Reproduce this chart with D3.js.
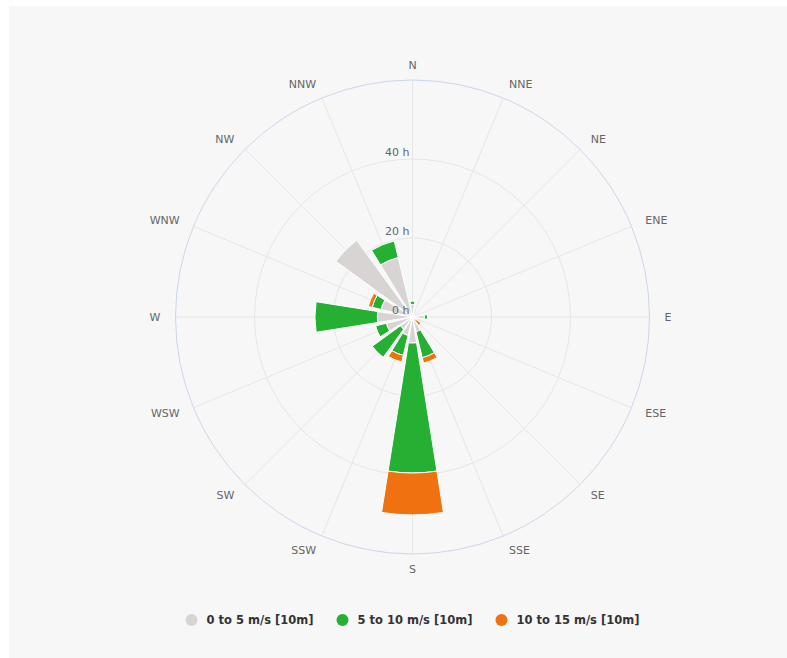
<!DOCTYPE html>
<html>
<head>
<meta charset="utf-8">
<script src="https://cdn.jsdelivr.net/npm/d3@7"></script>
<style>
  html, body { margin: 0; padding: 0; background: #ffffff; }
  svg { display: block; font-family: "DejaVu Sans", Verdana, sans-serif; }
</style>
</head>
<body>
<svg id="chart" width="787" height="658"></svg>
<script>
const directions = ["N","NNE","NE","ENE","E","ESE","SE","SSE","S","SSW","SW","WSW","W","WNW","NW","NNW"];
const speed0to5   = [3.2, 1.0, 0.8, 0.8, 3.0, 1.0, 0.8, 3.8, 6.6, 4.8, 3.8, 6.8, 8.9, 8.2, 24.0, 15.5];
const speed5to10  = [0.8, 0,   0,   0,   0.8, 0,   0.2, 6.8, 32.9, 5.2, 8.8, 2.8, 15.8, 2.3, 0,   4.3];
const speed10to15 = [0,   0,   0,   0,   0,   0,   1.6, 1.4, 10.6, 1.7, 0,   0,   0,    1.0, 0,   0];
const seriesNames = ["0 to 5 m/s [10m]", "5 to 10 m/s [10m]", "10 to 15 m/s [10m]"];
const seriesColors = ["#d9d4d4", "#25b033", "#ef710f"];
const yTicks = [0, 20, 40];
const yMax = 60;

const svg = d3.select("#chart");
const cx = 412.5, cy = 317, R = 237;

// panel background
svg.append("rect").attr("x", 9).attr("y", 6).attr("width", 787 - 9).attr("height", 658 - 6).attr("fill", "#f7f7f7");

const g = svg.append("g").attr("transform", `translate(${cx},${cy})`);
const r = d3.scaleLinear().domain([0, yMax]).range([0, R]);
const angle = d3.scaleBand().domain(directions).range([0, 2 * Math.PI]);
const step = angle.bandwidth();
const center = d => angle(d) ; // band start == direction angle (pointPlacement on)

// grid rings
yTicks.filter(t => t > 0).forEach(t => {
  g.append("circle").attr("r", r(t)).attr("fill", "none").attr("stroke", "#e6e6e6").attr("stroke-width", 1);
});
// spokes
directions.forEach(d => {
  const a = center(d);
  g.append("line")
    .attr("x1", 0).attr("y1", 0)
    .attr("x2", R * Math.sin(a)).attr("y2", -R * Math.cos(a))
    .attr("stroke", "#e6e6e6").attr("stroke-width", 1);
});
// outer axis line
g.append("circle").attr("r", R).attr("fill", "none").attr("stroke", "#ccd6eb").attr("stroke-width", 1);

// stacked data
const rows = directions.map((d, i) => ({dir: d, s0: speed0to5[i], s1: speed5to10[i], s2: speed10to15[i]}));
const stack = d3.stack().keys(["s0", "s1", "s2"])(rows);
const halfW = step * 0.8 / 2;
const arc = d3.arc();

stack.forEach((layer, li) => {
  g.append("g").selectAll("path").data(layer.filter(p => p[1] - p[0] > 0)).join("path")
    .attr("d", p => arc({
      innerRadius: r(p[0]), outerRadius: r(p[1]),
      startAngle: center(p.data.dir) - halfW, endAngle: center(p.data.dir) + halfW
    }))
    .attr("fill", seriesColors[li])
    .attr("stroke", "#ffffff").attr("stroke-width", 1).attr("stroke-linejoin", "round");
});

// y-axis labels
yTicks.forEach(t => {
  g.append("text").attr("x", -3).attr("y", -r(t) - 6.5)
    .attr("dy", "0.35em").attr("text-anchor", "end")
    .attr("font-size", 11).attr("fill", "#666666").text(t + " h");
});

// direction labels
const labR = R + 15;
directions.forEach(d => {
  const a = center(d);
  const s = Math.sin(a);
  const anchor = Math.abs(s) < 1e-6 ? "middle" : (s > 0 ? "start" : "end");
  g.append("text")
    .attr("x", labR * s).attr("y", -labR * Math.cos(a))
    .attr("dy", "0.35em").attr("text-anchor", anchor)
    .attr("font-size", 11).attr("fill", "#666666").text(d);
});

// legend
const legend = svg.append("g");
const items = seriesNames.map((n, i) => {
  const it = legend.append("g");
  it.append("circle").attr("cx", 0).attr("cy", 0).attr("r", 6).attr("fill", seriesColors[i]);
  const t = it.append("text").attr("x", 15).attr("y", 0).attr("dy", "0.35em")
    .attr("font-size", 11.5).attr("font-weight", "bold").attr("fill", "#333333").text(n);
  return {it, w: 15 + t.node().getComputedTextLength()};
});
const gap = 29;
const totalW = items.reduce((s, o) => s + o.w, 0) + gap * (items.length - 1) + 6;
let x = cx - totalW / 2 + 6;
items.forEach(o => {
  o.it.attr("transform", `translate(${x},620)`);
  x += o.w + gap;
});
</script>
</body>
</html>
